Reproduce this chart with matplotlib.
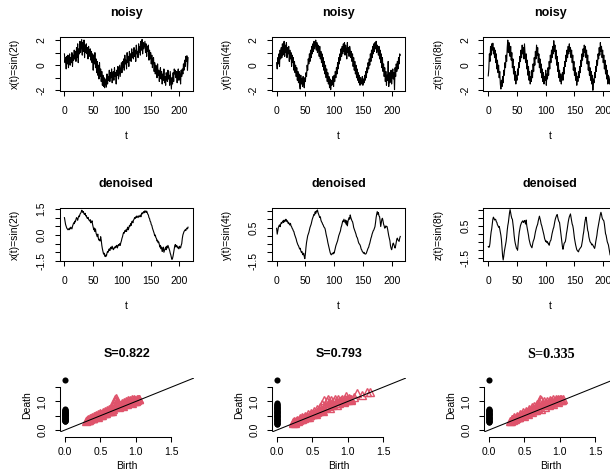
import matplotlib
matplotlib.use("Agg")
import matplotlib.pyplot as plt
import numpy as np

plt.rcParams['font.family'] = ['Liberation Sans', 'DejaVu Sans']

# ---------------- data ----------------
t_index = list(range(216))

x_noisy = [
 0.9, 0.2, 0.6, -0.3, 0.7, 0.1, 0.8, -0.2, 0.5, 0.9,
 0.0, 0.6, 0.2, 1.0, -0.1, 0.8, 0.4, 1.2, 0.5, 1.1,
 0.3, 1.4, 0.6, 1.7, 0.2, 1.3, 0.9, 1.9, 1.0, 1.5,
 2.05, 0.8, 1.8, 1.1, 2.0, 0.6, 1.6, 1.0, 1.7, 0.9,
 1.4, 0.5, 1.5, 0.7, 1.2, 1.3, 0.4, 1.1, 0.2, 0.9,
 -0.4, 0.8, 0.1, 1.0, -0.2, 0.5, -0.6, 0.3, -0.8, 0.0,
 -1.1, 0.2, -0.9, -0.3, -1.3, -0.5, -1.6, -0.8, -1.7, -1.0,
 -1.8, -1.1, -1.4, -1.75, -0.7, -1.5, -0.9, -1.2, -0.4, -1.3,
 -0.6, -1.0, -0.3, -1.4, -0.7, -0.5, -1.2, -0.2, -0.9, -0.6,
 -1.5, -0.4, -0.8, -0.1, -1.1, -0.5, 0.0, -0.9, -0.3, 0.2,
 -0.6, 0.3, -0.2, 0.5, -0.4, 0.8, 0.1, 0.4, -0.3, 1.0,
 0.2, 0.7, -0.1, 1.1, 0.4, 0.9, 0.3, 1.3, 0.6, 1.0,
 0.5, 1.4, 0.7, 1.2, 0.3, 1.6, 0.9, 1.1, 0.6, 1.7,
 1.0, 1.5, 0.8, 1.9, 1.2, 2.05, 0.9, 1.8, 1.3, 1.6,
 1.9, 1.0, 1.7, 0.7, 1.5, 1.1, 1.6, 0.4, 1.2, 0.5,
 1.0, 0.1, 0.8, -0.2, 0.5, 0.6, -0.5, 0.2, -0.7, 0.0,
 -0.3, -1.0, 0.1, -0.8, -0.4, -1.3, -0.6, -0.2, -1.1, -0.5,
 -1.5, -0.7, -1.2, -0.3, -1.4, -0.9, -1.6, -0.6, -1.0, -1.3,
 -0.4, -1.1, -0.8, -1.6, -0.5, -1.2, -1.9, -1.0, -1.5, -0.6,
 -1.3, -0.3, -0.7, -0.4, -1.0, -0.5, -1.4, -0.6, -0.3, -1.2,
 -0.5, -0.8, -1.5, -0.4, -0.9, -0.3, -0.7, 0.1, -0.4, 0.4,
 -0.1, 0.7, 0.3, 0.75, -0.4, 0.6]

y_noisy = [
 0.2, -0.3, 0.6, 0.1, 0.9, -0.1, 1.2, 0.5, 1.4, 0.6,
 1.7, 0.8, 1.5, 1.9, 0.7, 1.6, 1.0, 1.8, 0.6, 1.4,
 0.9, 1.5, 0.3, 1.2, 0.5, 1.0, -0.1, 0.8, 0.2, 0.6,
 -0.4, 0.3, -0.6, 0.0, -0.9, -0.2, -1.2, -0.5, -1.4, -0.7,
 -1.6, -1.9, -0.8, -1.5, -1.1, -1.7, -0.9, -1.4, -1.8, -1.0,
 -1.3, -0.6, -0.9, 0.0, -0.4, 0.5, 0.1, 0.9, 0.3, 1.2,
 0.6, 1.5, 0.9, 1.7, 1.1, 1.9, 1.3, 1.6, 2.0, 1.2,
 1.8, 1.0, 1.6, 1.3, 0.7, 1.5, 0.5, 1.1, 0.2, 0.9,
 -0.1, 0.6, -0.4, 0.3, -0.7, 0.0, -1.0, -0.3, -1.3, -0.6,
 -1.5, -0.9, -1.8, -1.1, -1.95, -1.2, -1.6, -1.4, -0.9, -1.7,
 -0.8, -1.3, -0.5, -1.0, -0.2, -0.7, 0.2, -0.3, 0.6, 0.1,
 0.9, 0.4, 1.3, 0.7, 1.5, 0.9, 1.7, 1.1, 1.8, 0.8,
 1.6, 1.2, 0.5, 1.8, 1.0, 1.4, 0.7, 1.5, 1.2, 0.6,
 1.1, 0.3, 0.9, -0.1, 0.6, -0.4, 0.3, -0.7, 0.0, -1.0,
 -0.3, -1.2, -0.6, -1.4, -0.8, -1.6, -1.0, -1.3, -1.5, -0.9,
 -1.6, -1.1, -1.4, -0.8, -1.2, -0.5, -1.0, -0.2, -0.6, 0.2,
 -0.3, 0.5, 0.0, 0.9, 0.3, 1.2, 0.6, 1.5, 0.9, 1.7,
 1.1, 1.8, 1.3, 1.9, 1.0, 1.6, 1.4, 0.8, 1.5, 0.5,
 1.2, 0.2, 0.9, -0.2, 0.6, -0.5, 0.1, -0.9, -0.2, -1.3,
 -0.5, -1.6, -0.8, -1.2, 0.3, -1.7, -0.6, -1.4, -1.0, -0.4,
 -1.5, -0.8, -0.3, -1.1, -0.6, -1.95, -0.2, -0.9, 0.1, -0.5,
 0.3, -0.3, 0.6, 0.1, 0.9, 0.8]

z_noisy = [
 -0.85, -0.3, 0.9, 0.3, 1.5, 0.8, 1.7, 1.2, 1.75, 0.9,
 1.4, 0.6, 1.2, 0.2, 0.9, -0.3, 0.4, -0.6, 0.0, -1.0,
 -0.5, -1.5, -1.9, -1.2, -1.7, -0.9, -1.4, -0.4, -0.8, 0.2,
 -0.2, 0.8, 0.3, 1.4, 2.0, 1.0, 1.8, 1.3, 0.7, 1.5,
 0.4, 1.0, -0.2, 0.5, -0.7, -0.1, -1.2, -0.5, -1.5, -0.8,
 -1.2, -0.3, -0.8, 0.2, -0.2, 0.7, 0.3, 1.2, 0.6, 1.6,
 0.9, 1.4, 0.5, 1.7, 1.0, 0.2, 0.9, -0.3, 0.4, -0.8,
 -0.1, -1.2, -0.5, -1.5, -0.9, -1.3, -0.4, -1.0, 0.1, -0.5,
 0.6, 0.0, 1.1, 0.5, 1.6, 0.8, 1.4, 0.2, 0.9, -0.2,
 0.5, -0.6, 0.1, -1.0, -0.3, -1.3, -0.6, -1.5, -0.9, -1.2,
 -0.4, -1.6, -0.7, -1.1, -0.2, -0.8, 0.3, -0.3, 0.8, 0.2,
 1.2, 0.6, 1.5, 0.9, 1.95, 1.1, 1.6, 0.5, 1.2, 0.0,
 0.7, -0.5, 0.2, -1.0, -0.4, -1.3, -0.7, -1.5, -1.0, -0.6,
 -1.2, -0.2, -0.7, 0.3, -0.1, 0.8, 0.3, 1.2, 0.6, 1.5,
 0.9, 1.7, 1.1, 1.4, 0.6, 1.2, 0.2, 0.8, -0.4, 0.3,
 -0.8, -0.2, -1.2, -0.6, -1.6, -0.9, -1.3, -0.5, -1.0, -0.1,
 -0.6, 0.4, -0.1, 0.9, 0.4, 1.3, 0.7, 1.6, 1.0, 1.5,
 0.6, 1.2, 0.1, 0.8, -0.4, 0.3, -0.8, -0.2, -1.2, -0.5,
 -1.5, -0.8, -2.0, -1.1, -1.4, -0.6, -1.0, -0.1, -0.5, 0.4,
 0.0, 0.9, 0.5, 1.4, 0.8, 1.8, 1.1, 1.5, 0.6, 1.2,
 0.2, 0.8, -0.3, 0.4, -0.7, 0.0, -1.1, -0.4, -1.5, -0.8,
 -1.3, -1.5, -0.9, -1.2, -1.6, -1.0]

x_denoised = [
 1.0, 0.8, 0.6, 0.5, 0.4, 0.35, 0.3, 0.35, 0.3, 0.4,
 0.35, 0.45, 0.4, 0.35, 0.5, 0.6, 0.7, 0.65, 0.8, 0.75,
 0.9, 1.0, 0.95, 0.85, 1.0, 1.1, 1.05, 1.2, 1.25, 1.3,
 1.43, 1.4, 1.3, 1.35, 1.22, 1.18, 1.25, 1.1, 1.12, 1.0,
 0.95, 1.02, 0.9, 0.85, 0.8, 0.88, 0.7, 0.75, 0.82, 0.6,
 0.45, 0.3, 0.4, 0.2, 0.35, 0.1, 0.0, -0.1, 0.05, -0.2,
 -0.3, -0.25, -0.35, -0.1, -0.3, -0.6, -0.8, -0.95, -1.1, -1.05,
 -1.2, -1.25, -1.15, -1.22, -1.05, -0.95, -1.0, -0.85, -0.8, -0.9,
 -0.75, -0.7, -0.8, -0.65, -0.75, -0.85, -0.8, -0.7, -0.75, -0.65,
 -0.7, -0.6, -0.75, -0.65, -0.55, -0.6, -0.5, -0.6, -0.45, -0.35,
 -0.2, -0.1, 0.05, 0.15, 0.1, 0.25, 0.2, 0.3, 0.2, 0.35,
 0.45, 0.3, 0.4, 0.55, 0.5, 0.65, 0.55, 0.75, 0.8, 0.7,
 0.85, 0.9, 1.0, 0.95, 1.05, 1.0, 1.1, 1.05, 1.0, 1.1,
 1.05, 1.1, 1.15, 1.05, 1.2, 1.28, 1.22, 1.3, 1.35, 1.28,
 1.4, 1.36, 1.3, 1.38, 1.28, 1.2, 1.15, 1.0, 0.95, 0.8,
 0.75, 0.6, 0.55, 0.4, 0.3, 0.2, 0.1, -0.05, 0.0, -0.15,
 -0.2, -0.35, -0.3, -0.45, -0.4, -0.55, -0.7, -0.6, -0.8, -0.7,
 -0.95, -0.85, -0.7, -1.0, -0.9, -0.8, -0.7, -0.85, -0.65, -0.75,
 -0.6, -0.7, -0.8, -0.9, -1.05, -1.15, -1.3, -1.41, -1.35, -1.2,
 -1.0, -0.8, -0.6, -0.55, -0.7, -0.6, -0.65, -0.75, -0.7, -0.8,
 -0.65, -0.7, -0.75, -0.6, -0.5, -0.2, 0.0, 0.1, 0.2, 0.25,
 0.3, 0.25, 0.35, 0.4, 0.35, 0.45]

y_denoised = [
 0.45, 0.1, 0.3, 0.5, 0.6, 0.66, 0.55, 0.7, 0.8, 0.75,
 0.85, 0.9, 0.8, 0.95, 0.85, 0.9, 1.0, 0.95, 0.85, 0.9,
 0.75, 0.8, 0.7, 0.65, 0.75, 0.6, 0.55, 0.45, 0.4, 0.3,
 0.25, 0.1, 0.0, -0.1, -0.2, -0.35, -0.45, -0.55, -0.6, -0.7,
 -0.8, -0.75, -0.9, -1.0, -0.95, -1.1, -1.15, -1.05, -1.25, -1.38,
 -1.1, -0.7, -0.4, -0.2, 0.0, 0.1, 0.2, 0.35, 0.5, 0.6,
 0.7, 0.85, 1.0, 1.1, 1.2, 1.3, 1.25, 1.45, 1.35, 1.5,
 1.45, 1.56, 1.4, 1.3, 1.2, 1.1, 1.15, 0.95, 0.85, 0.8,
 0.7, 0.65, 0.55, 0.5, 0.45, 0.3, 0.1, -0.05, -0.2, -0.4,
 -0.55, -0.7, -0.85, -1.0, -1.1, -1.15, -1.1, -1.05, -1.1, -1.0,
 -1.05, -0.9, -0.75, -0.6, -0.5, -0.4, -0.3, -0.15, 0.0, 0.1,
 0.2, 0.3, 0.5, 0.6, 0.75, 0.9, 0.85, 1.0, 0.9, 0.8,
 0.95, 0.7, 0.9, 0.6, 0.85, 1.0, 1.1, 1.0, 1.26, 1.1,
 1.0, 0.9, 0.85, 0.7, 0.5, 0.4, 0.3, 0.2, 0.1, -0.05,
 -0.1, -0.2, -0.35, -0.45, -0.5, -0.55, -0.65, -0.8, -0.85, -0.95,
 -0.98, -1.05, -1.0, -1.08, -1.1, -1.1, -1.05, -0.95, -0.85, -0.75,
 -0.7, -0.55, -0.45, -0.3, -0.15, -0.05, 0.1, 0.2, 0.3, 0.35,
 0.45, 0.55, 0.8, 1.1, 1.3, 1.46, 1.3, 1.4, 1.2, 1.16,
 0.9, 0.56, 0.8, 1.0, 1.06, 0.9, 0.7, 0.6, 0.46, 0.5,
 0.6, 0.55, 0.56, 0.4, 0.2, 0.0, -0.14, -0.3, -0.6, -0.75,
 -0.84, -0.7, -0.5, -0.44, -0.55, -0.65, -0.74, -0.6, -0.4, -0.2,
 -0.14, -0.25, -0.3, -0.34, -0.15, -0.04]

z_denoised = [
 -0.8, -0.85, -0.82, -0.6, -0.2, 0.1, 0.3, 0.6, 0.9, 1.03,
 0.95, 0.85, 0.9, 0.88, 0.75, 0.7, 0.55, 0.5, 0.4, 0.45,
 0.3, 0.1, -0.1, -0.4, -0.9, -1.4, -1.64, -1.4, -1.1, -0.9,
 -0.7, -0.5, -0.2, 0.2, 0.5, 0.7, 1.0, 1.3, 1.5, 1.3,
 1.1, 0.95, 0.9, 0.6, 0.3, -0.1, -0.4, -0.6, -0.75, -0.9,
 -0.95, -1.03, -0.6, -0.2, 0.1, 0.3, 0.5, 0.6, 0.7, 0.75,
 0.8, 0.7, 0.75, 0.82, 0.7, 0.6, 0.85, 0.5, 0.3, 0.1,
 -0.1, -0.35, -0.5, -0.65, -0.75, -0.82, -0.88, -0.7, -0.5, -0.4,
 -0.3, -0.1, 0.1, 0.25, 0.4, 0.5, 0.6, 0.8, 0.95, 1.09,
 0.95, 0.8, 0.6, 0.5, 0.35, 0.2, 0.05, -0.1, -0.3, -0.4,
 -0.5, -0.45, -0.55, -0.5, -0.62, -0.6, -0.72, -0.55, -0.45, -0.4,
 -0.2, 0.0, 0.15, 0.3, 0.4, 0.6, 0.8, 0.95, 1.05, 1.15,
 1.19, 1.0, 0.85, 0.75, 0.7, 0.4, 0.1, -0.2, -0.5, -0.8,
 -0.97, -0.8, -0.6, -0.55, -0.5, -0.3, 0.0, 0.2, 0.45, 0.7,
 0.9, 1.05, 1.15, 1.23, 1.0, 0.8, 0.6, 0.5, 0.3, 0.0,
 -0.3, -0.5, -0.7, -0.85, -1.0, -1.05, -1.1, -1.13, -1.0, -0.95,
 -0.9, -0.85, -0.8, -0.6, -0.4, -0.1, 0.1, 0.4, 0.7, 0.9,
 1.03, 0.8, 0.5, 0.2, 0.1, -0.2, -0.35, -0.5, -0.55, -0.6,
 -0.7, -0.65, -0.72, -0.8, -0.85, -0.92, -0.75, -0.5, -0.3, -0.1,
 0.2, 0.4, 0.6, 0.8, 1.0, 1.2, 1.33, 1.2, 1.0, 0.9,
 0.85, 0.8, 0.6, 0.3, 0.0, -0.1, -0.3, -0.5, -0.6, -0.7,
 -0.9, -1.1, -1.33, -1.1, -0.9, -1.2]

xticks_t = [0, 50, 100, 150, 200]
xtick_labels_t = ['0', '50', '100', '150', '200']
row1_yticks = [-2, -1, 0, 1, 2]
row1_ylabels = ['-2', '', '0', '', '2']
row2_yticks = [-1.5, -1.0, -0.5, 0.0, 0.5, 1.0, 1.5]
row2_ylabels = [
    ['-1.5', '', '', '0.0', '', '', '1.5'],
    ['-1.5', '', '', '', '0.5', '', ''],
    ['-1.5', '', '', '', '0.5', '', ''],
]

series_names = ['x(t)=sin(2t)', 'y(t)=sin(4t)', 'z(t)=sin(8t)']
scores = ['S=0.822', 'S=0.793', 'S=0.335']

# persistence diagrams: dimension 0 deaths (births are 0) and dimension 1 pairs
inf_death = 1.75
d0_deaths = [
 [0.30, 0.31, 0.33, 0.34, 0.36, 0.37, 0.39, 0.40, 0.42, 0.43, 0.45, 0.46, 0.48,
  0.49, 0.51, 0.52, 0.54, 0.55, 0.57, 0.58, 0.60, 0.61, 0.63, 0.64, 0.66, 0.67,
  0.69, 0.70, 0.72],
 [0.20, 0.22, 0.24, 0.26, 0.28, 0.30, 0.32, 0.34, 0.36, 0.38, 0.40, 0.42, 0.44,
  0.46, 0.48, 0.50, 0.52, 0.54, 0.56, 0.58, 0.60, 0.62, 0.64, 0.66, 0.68, 0.70,
  0.72, 0.74, 0.76, 0.78, 0.80, 0.82, 0.84, 0.86, 0.88, 0.90, 0.93],
 [0.27, 0.29, 0.31, 0.33, 0.35, 0.37, 0.39, 0.41, 0.43, 0.45, 0.47, 0.49, 0.51,
  0.53, 0.55, 0.57, 0.59, 0.61, 0.63, 0.65, 0.67, 0.69, 0.71, 0.73],
]

d1_birth_a = [0.30, 0.32, 0.33, 0.35, 0.36, 0.38, 0.39, 0.41, 0.42, 0.44, 0.45, 0.47, 0.48,
              0.50, 0.51, 0.53, 0.54, 0.56, 0.57, 0.59, 0.60, 0.62, 0.63, 0.65, 0.66, 0.68,
              0.69, 0.70, 0.71, 0.72, 0.73, 0.74, 0.75, 0.77, 0.78, 0.80, 0.81, 0.83, 0.84,
              0.86, 0.87, 0.89, 0.90, 0.92, 0.93, 0.95, 0.96, 0.98, 0.99, 1.01, 1.03, 1.05,
              0.34, 0.40, 0.46, 0.52, 0.58, 0.64, 0.67, 0.76, 0.82, 0.88, 0.94, 1.00,
              0.31, 0.33, 0.37, 0.39, 0.43, 0.45, 0.49, 0.51, 0.55, 0.57, 0.61, 0.63, 0.66,
              0.68, 0.71, 0.73, 0.77, 0.79, 0.81, 0.85, 0.87, 0.91, 0.93, 0.97, 0.99, 1.02, 1.04]
d1_death_a = [0.32, 0.37, 0.34, 0.41, 0.39, 0.45, 0.41, 0.49, 0.46, 0.53, 0.48, 0.57, 0.53,
              0.58, 0.53, 0.64, 0.60, 0.65, 0.60, 0.71, 0.67, 0.72, 0.67, 0.79, 0.74, 0.86,
              0.94, 1.02, 1.09, 1.12, 1.03, 0.96, 0.90, 0.89, 0.86, 0.93, 0.86, 0.99, 0.94,
              1.00, 0.93, 1.04, 1.01, 1.05, 0.97, 1.07, 1.04, 1.08, 1.02, 1.08, 1.07, 1.07,
              0.34, 0.41, 0.46, 0.54, 0.58, 0.67, 0.68, 0.81, 0.84, 0.91, 0.95, 1.02,
              0.35, 0.36, 0.42, 0.43, 0.49, 0.50, 0.55, 0.55, 0.61, 0.62, 0.67, 0.69, 0.72,
              0.75, 0.80, 0.85, 0.84, 0.87, 0.90, 0.92, 0.96, 0.98, 1.00, 1.03, 1.05, 1.06, 1.09]

d1_birth_b = [0.22, 0.24, 0.26, 0.28, 0.30, 0.32, 0.34, 0.36, 0.38, 0.40, 0.42, 0.44, 0.46,
              0.48, 0.50, 0.52, 0.54, 0.56, 0.58, 0.60, 0.62, 0.64, 0.66, 0.68, 0.70, 0.72,
              0.74, 0.76, 0.78, 0.80, 0.82, 0.84, 0.86, 0.88, 0.90, 0.92, 0.94, 0.96, 0.98,
              1.00, 1.02, 1.04, 1.08, 1.13, 1.20, 1.27, 1.31,
              0.25, 0.35, 0.45, 0.55, 0.65, 0.75, 0.85, 0.95, 1.05,
              0.23, 0.27, 0.31, 0.33, 0.37, 0.39, 0.43, 0.47, 0.51, 0.53, 0.57, 0.59, 0.63,
              0.67, 0.69, 0.73, 0.77, 0.79, 0.83, 0.87, 0.89, 0.93, 0.97, 0.99, 1.03]
d1_death_b = [0.27, 0.30, 0.29, 0.36, 0.33, 0.42, 0.37, 0.46, 0.41, 0.50, 0.47, 0.55, 0.52,
              0.60, 0.56, 0.65, 0.60, 0.72, 0.66, 0.82, 0.75, 0.90, 1.05, 0.88, 1.00, 1.08,
              0.94, 1.06, 0.95, 1.02, 1.07, 0.96, 1.08, 1.00, 1.05, 1.10, 1.02, 1.08, 1.18,
              1.06, 1.12, 1.10, 1.14, 1.30, 1.22, 1.34, 1.33,
              0.26, 0.37, 0.46, 0.57, 0.66, 0.78, 0.86, 0.97, 1.06,
              0.26, 0.31, 0.35, 0.38, 0.41, 0.45, 0.48, 0.53, 0.57, 0.60, 0.63, 0.68, 0.70,
              0.76, 0.80, 0.84, 0.86, 0.92, 0.93, 0.96, 1.00, 1.01, 1.04, 1.09, 1.08]

d1_birth_c = [0.30, 0.32, 0.34, 0.36, 0.38, 0.40, 0.42, 0.44, 0.46, 0.48, 0.50, 0.52, 0.54,
              0.56, 0.58, 0.60, 0.62, 0.64, 0.66, 0.68, 0.70, 0.72, 0.74, 0.76, 0.78, 0.80,
              0.82, 0.84, 0.86, 0.88, 0.90, 0.92, 0.94, 0.96, 0.98, 1.00, 1.02, 1.04,
              0.31, 0.37, 0.43, 0.49, 0.55, 0.61, 0.67, 0.73, 0.79, 0.85, 0.91, 0.97, 1.03,
              0.33, 0.35, 0.39, 0.41, 0.45, 0.47, 0.51, 0.53, 0.57, 0.59, 0.63, 0.65, 0.69,
              0.71, 0.75, 0.77, 0.81, 0.83, 0.87, 0.89, 0.93, 0.95, 0.99, 1.01]
d1_death_c = [0.33, 0.38, 0.36, 0.44, 0.41, 0.50, 0.46, 0.57, 0.52, 0.62, 0.56, 0.68, 0.62,
              0.74, 0.66, 0.79, 0.72, 0.84, 0.80, 0.90, 0.98, 1.10, 1.06, 0.95, 1.00, 0.93,
              1.02, 0.97, 1.05, 1.00, 1.07, 1.03, 1.08, 1.04, 1.07, 1.09, 1.06, 1.08,
              0.31, 0.38, 0.44, 0.50, 0.57, 0.62, 0.69, 0.75, 0.80, 0.87, 0.92, 0.98, 1.04,
              0.37, 0.40, 0.45, 0.47, 0.52, 0.55, 0.58, 0.61, 0.65, 0.69, 0.70, 0.76, 0.78,
              0.88, 0.92, 0.86, 0.90, 0.94, 0.95, 0.97, 1.00, 1.02, 1.05, 1.08]

# ---------------- layout ----------------
W, H = 610, 474
fig = plt.figure(figsize=(W / 100, H / 100), dpi=100)
PT = 0.72  # points per pixel

col_left = [59.5, 271.7, 483.3]
PW = 133.5
row_top = [37.3, 208.3, 378.0]
PH = 54.0
row2_ylims = [(-1.52, 1.54), (-1.54, 1.66), (-1.72, 1.58)]


def px_axes(l, t, w, h):
    return fig.add_axes([l / W, 1 - (t + h) / H, w / W, h / H])


def style_ts(ax, yticks, ylabels, title, ylab):
    ax.set_xlim(-8.6, 223.6)
    ax.set_xticks(xticks_t)
    ax.set_xticklabels(xtick_labels_t)
    ax.set_yticks(yticks)
    ax.set_yticklabels(ylabels, rotation=90, va='center')
    ax.tick_params(axis='both', direction='out', length=5 * PT, width=0.75,
                   labelsize=7.5, colors='black')
    ax.tick_params(axis='x', pad=9.3 * PT)
    ax.tick_params(axis='y', pad=7.8 * PT)
    for s in ax.spines.values():
        s.set_linewidth(0.75)
    ax.annotate(title, (0.5, 1), xycoords='axes fraction', xytext=(0, 24 * PT),
                textcoords='offset points', ha='center', va='center',
                fontsize=9, fontweight='bold')
    ax.annotate('t', (0.5, 0), xycoords='axes fraction', xytext=(0, -45 * PT),
                textcoords='offset points', ha='center', va='center', fontsize=7.5)
    ax.annotate(ylab, (0, 0.5), xycoords='axes fraction', xytext=(-44.5 * PT, 0),
                textcoords='offset points', ha='center', va='center',
                rotation=90, fontsize=7.5)


noisy = [x_noisy, y_noisy, z_noisy]
denoised = [x_denoised, y_denoised, z_denoised]

for c in range(3):
    ax = px_axes(col_left[c], row_top[0], PW, PH)
    ax.plot(t_index, noisy[c], color='black', lw=0.8)
    ax.set_ylim(-2.08, 2.22)
    style_ts(ax, row1_yticks, row1_ylabels, 'noisy', series_names[c])

    ax = px_axes(col_left[c], row_top[1], PW, PH - 1)
    ax.plot(t_index, denoised[c], color='black', lw=0.8)
    ax.set_ylim(*row2_ylims[c])
    style_ts(ax, row2_yticks, row2_ylabels[c], 'denoised', series_names[c])

# ---------------- persistence diagrams ----------------
diag_births = [d1_birth_a, d1_birth_b, d1_birth_c]
diag_deaths = [d1_death_a, d1_death_b, d1_death_c]
diag_left = [60.0, 272.0, 484.0]
title_fonts = ['Liberation Sans', 'Liberation Sans', 'Liberation Serif']
title_sizes = [9, 9, 10.2]
red = '#DF536B'

for c in range(3):
    ax = px_axes(diag_left[c], row_top[2], 134, 54)
    ax.set_xlim(-0.07, 1.82)
    ax.set_ylim(-0.07, 1.82)
    deaths0 = d0_deaths[c] + [inf_death]
    ax.plot(np.zeros(len(deaths0)), deaths0, 'o', color='black', ms=4.4,
            mew=0, clip_on=False, zorder=3)
    ax.plot(diag_births[c], diag_deaths[c], '^', mfc='none', mec=red, ms=5.4,
            mew=1.0, zorder=2)
    ax.axline((0, 0), slope=1, color='black', lw=0.75, zorder=4)
    for s in ['top', 'right']:
        ax.spines[s].set_visible(False)
    ax.spines['left'].set_bounds(0, 1.5)
    ax.spines['bottom'].set_bounds(0, 1.5)
    ax.spines['bottom'].set_position(('outward', 5 * PT))
    for s in ['left', 'bottom']:
        ax.spines[s].set_linewidth(0.75)
    ax.set_xticks([0, 0.5, 1.0, 1.5])
    ax.set_xticklabels(['0.0', '0.5', '1.0', '1.5'])
    ax.set_yticks([0, 0.5, 1.0, 1.5])
    ax.set_yticklabels(['0.0', '', '1.0', ''], rotation=90, va='center')
    ax.tick_params(axis='both', direction='out', length=5 * PT, width=0.75,
                   labelsize=7.5, colors='black')
    ax.tick_params(axis='x', pad=5.4 * PT)
    ax.tick_params(axis='y', pad=7.3 * PT)
    ax.annotate(scores[c], (0.5, 1), xycoords='axes fraction', xytext=(0, 24 * PT),
                textcoords='offset points', ha='center', va='center',
                fontsize=title_sizes[c], fontweight='bold', family=title_fonts[c])
    ax.annotate('Birth', (0.5, 0), xycoords='axes fraction', xytext=(0, -34 * PT),
                textcoords='offset points', ha='center', va='center', fontsize=7.5)
    ax.annotate('Death', (0, 0.5), xycoords='axes fraction', xytext=(-33 * PT, 0),
                textcoords='offset points', ha='center', va='center',
                rotation=90, fontsize=7.5)

fig.savefig('out.png', dpi=100)
